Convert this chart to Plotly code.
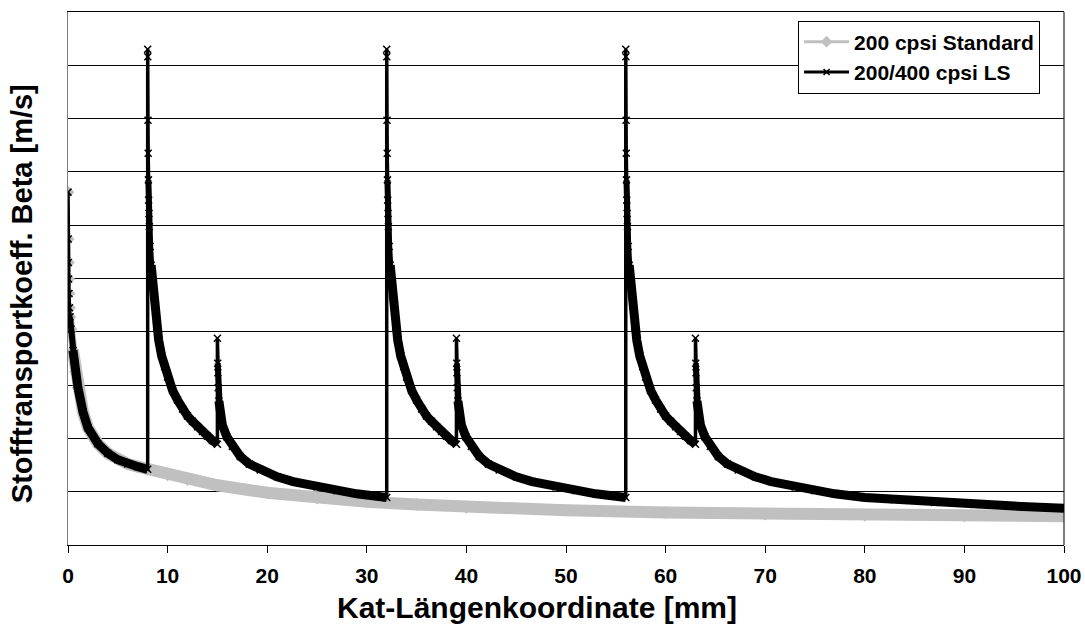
import plotly.graph_objects as go

# Kat-Längenkoordinate [mm] / Stofftransportkoeffizient Beta [m/s]
# 200 cpsi Standard: one continuous inlet decay
std_x = [0, 0.02, 0.04, 0.06, 0.1, 0.15, 0.2, 0.3, 0.5, 0.75, 1, 1.5, 2, 3, 4, 5, 6, 7, 8,
         10, 12, 15, 20, 25, 30, 35, 40, 50, 60, 70, 80, 90, 100]
std_beta = [6.62, 5.74, 5.30, 4.99, 4.72, 4.45, 4.28, 4.05, 3.65, 3.25, 2.95, 2.5, 2.2, 1.9,
            1.72, 1.6, 1.52, 1.47, 1.42, 1.32, 1.23, 1.12, 0.98, 0.88, 0.81, 0.76, 0.71,
            0.65, 0.61, 0.58, 0.56, 0.55, 0.54]

# 200/400 cpsi LS: inlet section identical to the standard substrate up to 8 mm
ls_inlet_end = 8

# new boundary layer after each full slit (offset from slit position)
main_dx = [0, 0.01, 0.03, 0.05, 0.07, 0.1, 0.13, 0.17, 0.25, 0.35, 0.5, 0.7, 0.9, 1.1, 1.4,
           1.7, 2.0, 2.5, 3.0, 3.5, 4.0, 4.5, 5.0, 5.5, 6.0, 6.5, 7.0]
main_beta = [9.3, 9.16, 7.97, 7.35, 6.85, 6.47, 6.22, 5.97, 5.6, 5.25, 4.9, 4.5, 4.1, 3.85,
             3.55, 3.35, 3.15, 2.9, 2.72, 2.55, 2.42, 2.32, 2.22, 2.13, 2.04, 1.96, 1.89]
main_starts = [8, 32, 56]

# weaker restart after each partial slit
sub_dx = [0, 0.03, 0.05, 0.08, 0.15, 0.27, 0.5, 0.95, 1.5, 2.3, 3.2, 4.3, 6, 7.6, 10, 12,
          14, 17]
sub_beta = [3.88, 3.41, 3.23, 2.95, 2.7, 2.47, 2.25, 2.03, 1.85, 1.66, 1.52, 1.41, 1.28,
            1.19, 1.09, 1.02, 0.96, 0.89]
sub_starts = [15, 39, 63]

# run-out after the last partial slit (offset from 63 mm)
tail_dx = [20, 24, 28, 32, 37]
tail_beta = [0.85, 0.80, 0.76, 0.73, 0.69]

x_ticks = [0, 10, 20, 30, 40, 50, 60, 70, 80, 90, 100]

# offsets beyond which the fine calculation grid makes the markers merge into a band:
# (inlet, after full slit, after partial slit) for a medium and a full-width band
band_start = {"medium": (0.2, 0.07, 0.03), "full": (0.4, 0.3, 0.1)}


def band_path(level):
    """LS and standard points inside the densely sampled stretches, gaps as None."""
    f_in, f_main, f_sub = band_start[level]
    bx, by = [], []
    for xv, bv in zip(std_x, std_beta):
        if f_in <= xv <= ls_inlet_end:
            bx.append(xv)
            by.append(bv)
    for m0, s0 in zip(main_starts, sub_starts):
        bx.append(None)
        by.append(None)
        for d, b in zip(main_dx, main_beta):
            if d >= f_main:
                bx.append(m0 + d)
                by.append(b)
        bx.append(None)
        by.append(None)
        for d, b in zip(sub_dx, sub_beta):
            if d >= f_sub:
                bx.append(s0 + d)
                by.append(b)
    bx += [sub_starts[-1] + d for d in tail_dx]
    by += tail_beta
    sx = [xv for xv in std_x if xv >= f_in]
    sy = [bv for xv, bv in zip(std_x, std_beta) if xv >= f_in]
    return bx, by, sx, sy


# full LS series
ls_x, ls_beta = [], []
for xv, bv in zip(std_x, std_beta):
    if xv <= ls_inlet_end:
        ls_x.append(xv)
        ls_beta.append(bv)
for m0, s0 in zip(main_starts, sub_starts):
    ls_x += [m0 + d for d in main_dx]
    ls_beta += main_beta
    ls_x += [s0 + d for d in sub_dx]
    ls_beta += sub_beta
ls_x += [sub_starts[-1] + d for d in tail_dx]
ls_beta += tail_beta

med_x, med_y, std_med_x, std_med_y = band_path("medium")
full_x, full_y, std_full_x, std_full_y = band_path("full")

GRAY = "#c0c0c0"
FONT = "Liberation Sans, Arial, sans-serif"

fig = go.Figure()
# 200 cpsi Standard
fig.add_trace(go.Scatter(x=std_med_x, y=std_med_y, mode="lines", showlegend=False,
                         hoverinfo="skip", line=dict(color=GRAY, width=8)))
fig.add_trace(go.Scatter(x=std_full_x, y=std_full_y, mode="lines", showlegend=False,
                         hoverinfo="skip", line=dict(color=GRAY, width=12)))
fig.add_trace(go.Scatter(
    x=std_x, y=std_beta, name="200 cpsi Standard", mode="lines+markers", showlegend=False,
    line=dict(color=GRAY, width=3),
    marker=dict(symbol="diamond", size=10, color=GRAY),
))
# 200/400 cpsi LS
fig.add_trace(go.Scatter(x=med_x, y=med_y, mode="lines", showlegend=False,
                         hoverinfo="skip", line=dict(color="black", width=6)))
fig.add_trace(go.Scatter(x=full_x, y=full_y, mode="lines", showlegend=False,
                         hoverinfo="skip", line=dict(color="black", width=9)))
fig.add_trace(go.Scatter(
    x=ls_x, y=ls_beta, name="200/400 cpsi LS", mode="lines+markers", showlegend=False,
    line=dict(color="black", width=3.5),
    marker=dict(symbol="x-thin", size=7, color="black", line=dict(color="black", width=1.5)),
))
# legend entries
fig.add_trace(go.Scatter(
    x=[None], y=[None], name="200 cpsi Standard", mode="lines+markers",
    line=dict(color=GRAY, width=3), marker=dict(symbol="diamond", size=9, color=GRAY),
))
fig.add_trace(go.Scatter(
    x=[None], y=[None], name="200/400 cpsi LS", mode="lines+markers",
    line=dict(color="black", width=3),
    marker=dict(symbol="x-thin", size=6, color="black", line=dict(color="black", width=1.5)),
))

# right border of the plot area
fig.add_shape(type="line", xref="paper", yref="paper", x0=1, x1=1, y0=0, y1=1,
              line=dict(color="black", width=1))

# axis titles
fig.add_annotation(text="Kat-Längenkoordinate [mm]", xref="paper", yref="paper",
                   x=0.471, y=-0.118, xanchor="center", yanchor="middle", showarrow=False,
                   font=dict(family=FONT, size=30, color="black", weight="bold"))
fig.add_annotation(text="Stofftransportkoeff. Beta [m/s]", xref="paper", yref="paper",
                   x=-0.046, y=0.471, xanchor="center", yanchor="middle", showarrow=False,
                   textangle=-90,
                   font=dict(family=FONT, size=29, color="black", weight="bold"))

fig.update_layout(
    width=1085, height=630,
    margin=dict(l=68, r=21, t=12, b=85),
    paper_bgcolor="white", plot_bgcolor="white",
    font=dict(family=FONT, color="black"),
    showlegend=True,
    legend=dict(
        x=0.733, y=0.984, xanchor="left", yanchor="top",
        bgcolor="white", bordercolor="black", borderwidth=1,
        font=dict(family=FONT, size=21, color="black", weight="bold"),
        tracegroupgap=0, itemwidth=45,
    ),
    xaxis=dict(
        range=[0, 100], tickvals=x_ticks, ticktext=[str(t) for t in x_ticks],
        ticks="outside", ticklen=7, tickcolor="black", tickwidth=1,
        showline=True, linecolor="black", linewidth=1, mirror=True,
        showgrid=False, zeroline=False, automargin=False, ticklabelstandoff=5,
        tickfont=dict(family=FONT, size=21, color="black", weight="bold"),
    ),
    yaxis=dict(
        range=[0, 10], dtick=1, tick0=0, showticklabels=False, ticks="",
        showline=True, linecolor="#808080", linewidth=1,
        showgrid=True, gridcolor="black", gridwidth=1, zeroline=False, automargin=False,
    ),
)

fig.write_html("out.html")
